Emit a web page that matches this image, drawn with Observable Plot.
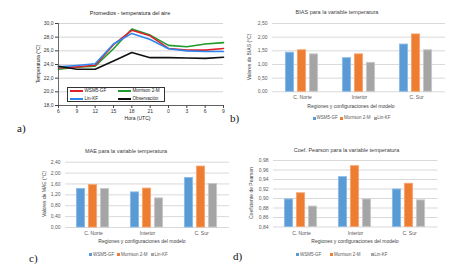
<!DOCTYPE html>
<html><head><meta charset="utf-8">
<script src="https://cdn.jsdelivr.net/npm/d3@7"></script>
<script src="https://cdn.jsdelivr.net/npm/@observablehq/plot@0.6"></script>
<style>
body{margin:0;background:#fff;}
#root{position:relative;width:450px;height:276px;overflow:hidden;background:#fff;font-family:"Liberation Sans",Arial,sans-serif;}
#root svg{position:absolute;overflow:visible;}
.lbl{position:absolute;white-space:nowrap;line-height:1;}
</style>
</head><body>
<div id="root"></div>
<script>
// ---------- data ----------
const hourLabels = ["6","9","12","15","18","21","0","3","6","9"];
const tempWSM5 = [23.5,23.65,23.9,26.9,29.0,28.2,26.35,26.1,26.1,26.35];
const tempMorrison = [23.3,23.6,23.75,26.3,29.2,28.3,26.8,26.6,27.0,27.2];
const tempLinKF = [23.65,23.85,24.1,27.0,28.55,27.65,26.3,26.0,25.9,25.9];
const tempObs = [23.75,23.3,23.3,24.5,25.75,25.0,25.0,24.95,24.9,25.05];
const lineNames = ["WSM5-GF","Morrison 2-M","Lin-KF","Observación"];
const lineColors = ["#e0202a","#1f9a2b","#2f86ef","#111111"];
const tempTicks = [18,20,22,24,26,28,30];

const regions = ["C. Norte","Interior","C. Sur"];
const models = ["WSM5-GF","Morrison 2-M","Lin-KF"];
const barColors = ["#5b9bd5","#ed7d31","#a5a5a5"];
const barStrokes = ["#8dbbe6","#f5a572","#c8c8c8"];

const biasWSM5 = [1.43,1.23,1.73];
const biasMorrison = [1.52,1.37,2.10];
const biasLinKF = [1.37,1.06,1.52];
const biasTicks = [0,0.5,1,1.5,2,2.5];

const maeWSM5 = [1.415,1.29,1.82];
const maeMorrison = [1.56,1.43,2.24];
const maeLinKF = [1.415,1.07,1.60];
const maeTicks = [0,0.4,0.8,1.2,1.6,2.0,2.4];

const pearWSM5 = [0.898,0.945,0.919];
const pearMorrison = [0.911,0.968,0.931];
const pearLinKF = [0.883,0.898,0.896];
const pearTicks = [0.84,0.86,0.88,0.90,0.92,0.94,0.96,0.98];

// ---------- helpers ----------
const root = document.getElementById("root");
const FONT = '"Liberation Sans",Arial,sans-serif';
function place(el, left, top){ el.style.left = left+"px"; el.style.top = top+"px"; root.appendChild(el); }
function label(text, x, y, o={}){
  const d = document.createElement("div");
  d.className = "lbl";
  d.textContent = text;
  d.style.fontSize = (o.size||5)+"px";
  d.style.color = o.color||"#404040";
  if(o.family) d.style.fontFamily = o.family;
  const rot = o.rotate ? " rotate(-90deg)" : "";
  d.style.transform = (o.anchor==="start" ? "translate(0,-50%)" : "translate(-50%,-50%)") + rot;
  place(d, x, y);
  return d;
}
const comma = k => d => d.toFixed(k).replace(".",",");

// ---------- panel a ----------
const lineData = [];
[tempWSM5, tempMorrison, tempLinKF, tempObs].forEach((arr, s) =>
  arr.forEach((v, i) => lineData.push({i, v, s: lineNames[s]})));
const drawOrder = ["Morrison 2-M","WSM5-GF","Lin-KF","Observación"];

const pa = Plot.plot({
  width:225, height:138, marginLeft:58, marginRight:2, marginTop:23, marginBottom:33,
  x:{domain:[0,9]},
  y:{domain:[18,30]},
  color:{domain:lineNames, range:lineColors},
  style:{fontSize:"5px", fontFamily:FONT, color:"#333", background:"transparent"},
  marks:[
    Plot.ruleY(tempTicks, {stroke:"#d4d4d4"}),
    ...drawOrder.map(n => Plot.line(lineData.filter(d => d.s===n), {x:"i", y:"v", stroke:"s", strokeWidth:1.6})),
    Plot.ruleX([0], {stroke:"#444", strokeWidth:0.8}),
    Plot.ruleY([18], {stroke:"#444", strokeWidth:0.8}),
    Plot.axisY(tempTicks, {tickFormat:comma(1), tickSize:3, tickPadding:2, label:null, stroke:"#444"}),
    Plot.axisX(d3.range(hourLabels.length), {tickFormat:i => hourLabels[i], tickSize:3, tickPadding:1, label:null, stroke:"#444"})
  ]
});
place(pa, 0, 0);
label("Promedios - temperatura del aire", 130, 14, {size:5.5, color:"#222"});
label("Temperatura (°C)", 38, 64, {rotate:true, color:"#222"});
label("Hora (UTC)", 137.5, 118, {color:"#222"});
label("a)", 17, 128, {anchor:"start", size:11, color:"#111", family:'"Liberation Serif","Times New Roman",serif'});

// legend a
const lg = document.createElement("div");
lg.style.cssText = "position:absolute;width:98px;height:15px;border:0.8px solid #333;background:#fff;box-sizing:border-box;";
place(lg, 67, 87);
[[0,70,90.8],[1,118,90.8],[2,70,98.8],[3,118,98.8]].forEach(([k,x,y]) => {
  const sw = document.createElement("div");
  sw.style.cssText = `position:absolute;width:13px;height:2px;background:${lineColors[k]};`;
  place(sw, x, y-1);
  label(lineNames[k], x+14.5, y, {anchor:"start", color:"#222", size:4.6});
});

// ---------- bar panels ----------
function barPanel({left, top, width, height, mL, mR, mT, mB, series, ticks, fmt, domain, base}){
  const data = [];
  series.forEach((arr, m) => arr.forEach((v, r) => data.push({region:regions[r], model:models[m], value:v})));
  const common = {width, height, marginLeft:mL, marginRight:mR, marginTop:mT, marginBottom:mB,
    style:{fontSize:"5px", fontFamily:FONT, color:"#595959", background:"transparent"}};
  const bg = Plot.plot({...common,
    x:{domain:[0,1], axis:null},
    y:{domain, axis:null},
    marks:[
      Plot.ruleY(ticks, {stroke:"#d9d9d9"}),
      Plot.axisY(ticks, {tickFormat:fmt, tickSize:0, tickPadding:5, label:null})
    ]});
  place(bg, left, top);
  const fg = Plot.plot({...common,
    fx:{domain:regions, paddingInner:0.37, paddingOuter:0.185, label:null},
    x:{domain:models, paddingInner:0.22, paddingOuter:0, axis:null},
    y:{domain, axis:null},
    color:{domain:models, range:barColors},
    marks:[
      Plot.barY(data, {fx:"region", x:"model", y1:base, y2:"value", fill:"model",
        stroke:d => barStrokes[models.indexOf(d.model)], strokeWidth:0.9, insetLeft:0.4, insetRight:0.4}),
      Plot.axisFx({anchor:"bottom", tickSize:0, tickPadding:4, label:null})
    ]});
  place(fg, left, top);
}
function barLegend(y, xs){
  xs.forEach((x, k) => {
    const sq = document.createElement("div");
    sq.style.cssText = `position:absolute;width:3px;height:3px;background:${barColors[k]};`;
    place(sq, x-1.5, y-1.5);
    label(models[k], x+2.2, y, {anchor:"start", color:"#595959", size:4.5});
  });
}

// b
barPanel({left:225, top:0, width:225, height:103, mL:47, mR:5, mT:23, mB:11.7,
  series:[biasWSM5, biasMorrison, biasLinKF], ticks:biasTicks, fmt:comma(2), domain:[0,2.5], base:0});
label("BIAS para la variable temperatura", 337, 12.5, {size:5.5});
label("Valores de BIAS (°C)", 249, 57, {rotate:true});
label("Regiones y configuraciones del modelo", 351, 106);
barLegend(118.3, [314.3, 341.7, 375]);
label("b)", 230, 118, {anchor:"start", size:11, color:"#111", family:'"Liberation Serif","Times New Roman",serif'});

// c
barPanel({left:0, top:138, width:232, height:100, mL:65, mR:3, mT:23.7, mB:11,
  series:[maeWSM5, maeMorrison, maeLinKF], ticks:maeTicks, fmt:comma(2), domain:[0,2.4], base:0});
label("MAE para la variable temperatura", 126, 152, {size:5.5});
label("Valores de MAE (°C)", 44, 194, {rotate:true});
label("Regiones y configuraciones del modelo", 142, 240.5);
barLegend(254.5, [90.7, 118.7, 152.3]);
label("c)", 29, 258, {anchor:"start", size:11, color:"#111", family:'"Liberation Serif","Times New Roman",serif'});

// d
barPanel({left:225, top:138, width:225, height:100, mL:48, mR:12.5, mT:22, mB:11.5,
  series:[pearWSM5, pearMorrison, pearLinKF], ticks:pearTicks, fmt:comma(2), domain:[0.84,0.98], base:pearTicks[0]});
label("Coef. Pearson para la variable temperatura", 346.5, 151, {size:5.5});
label("Coeficiente de Pearson", 251, 193, {rotate:true});
label("Regiones y configuraciones del modelo", 355, 241);
barLegend(254.7, [297.7, 331.7, 372]);
label("d)", 233, 256, {anchor:"start", size:11, color:"#111", family:'"Liberation Serif","Times New Roman",serif'});
</script>
</body></html>
